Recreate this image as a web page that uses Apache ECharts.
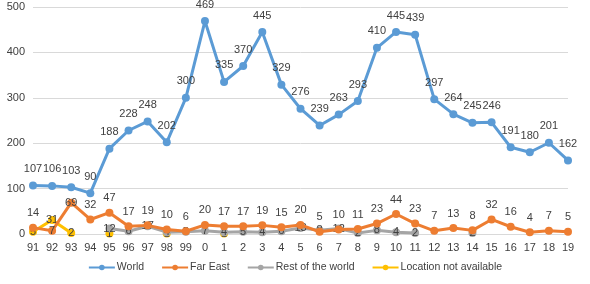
<!DOCTYPE html>
<html><head><meta charset="utf-8">
<script src="https://cdn.jsdelivr.net/npm/echarts@6/dist/echarts.min.js"></script>
<style>html,body{margin:0;padding:0;background:#fff}#c{width:590px;height:284px}</style>
</head><body><div id="c"></div>
<script>
const categories = ['91','92','93','94','95','96','97','98','99','0','1','2','3','4','5','6','7','8','9','10','11','12','13','14','15','16','17','18','19'];
const world = [107,106,103,90,188,228,248,202,300,469,335,370,445,329,276,239,263,293,410,445,439,297,264,245,246,191,180,201,162];
const farEast = [14,7,69,32,47,17,19,10,6,20,17,17,19,15,20,5,10,11,23,44,23,7,13,8,32,16,4,7,5];
const restOfWorld = [null,null,null,null,12,6,17,4,5,7,4,5,4,6,13,8,12,2,8,4,2,null,null,2,null,null,null,null,null];
const notAvailable = [5,31,2,null,1,null,null,1,null,null,1,null,null,null,null,null,null,null,null,null,null,null,null,null,null,null,null,null,null];
const yTicks = [0,100,200,300,400,500];

const font = 'Liberation Sans, Arial, sans-serif';
const lbl = (pos, dist) => ({show:true, position:pos, distance:dist, color:'#404040', fontSize:11, fontFamily:font});
function s(name, data, color, labelPos, dist, z) {
  return {name, type:'line', data, z, symbol:'circle', symbolSize:8,
    lineStyle:{width:3, color}, itemStyle:{color},
    label: lbl(labelPos, dist), labelLayout:{hideOverlap:false}, connectNulls:false, animation:false};
}
// Far East labels that sit on their point in the reference (index 1 and 2)
const farEastData = farEast.map((v,i) => (i===1||i===2) ? {value:v, label:{position:'inside'}} : v);
const chart = echarts.init(document.getElementById('c'), null, {renderer:'canvas'});
chart.setOption({
  animation:false,
  grid:{left:33, right:22, top:7, bottom:50},
  xAxis:{type:'category', data:categories, boundaryGap:false,
    axisLine:{show:true, lineStyle:{color:'#d9d9d9'}}, axisTick:{show:false},
    axisLabel:{color:'#404040', fontSize:11, fontFamily:font, margin:8}},
  yAxis:{type:'value', min:0, max:500, interval:100,
    axisLine:{show:false}, axisTick:{show:false},
    splitLine:{lineStyle:{color:'#d9d9d9'}},
    axisLabel:{color:'#404040', fontSize:11, fontFamily:font, margin:8,
      formatter:v=> yTicks.includes(v)? String(v):''}},
  legend:{bottom:6, left:'center', itemWidth:26, itemHeight:7, itemGap:17,
    textStyle:{color:'#404040', fontSize:10.5, fontFamily:font, padding:[0,0,0,-3]},
    data:['World','Far East','Rest of the world','Location not available']},
  series:[
    s('World', world, '#5B9BD5', 'top', 7, 4),
    s('Far East', farEastData, '#ED7D31', 'top', 5, 3),
    s('Rest of the world', restOfWorld, '#A5A5A5', 'inside', 0, 2),
    s('Location not available', notAvailable, '#FFC000', 'inside', 0, 1)
  ]
});
</script></body></html>
